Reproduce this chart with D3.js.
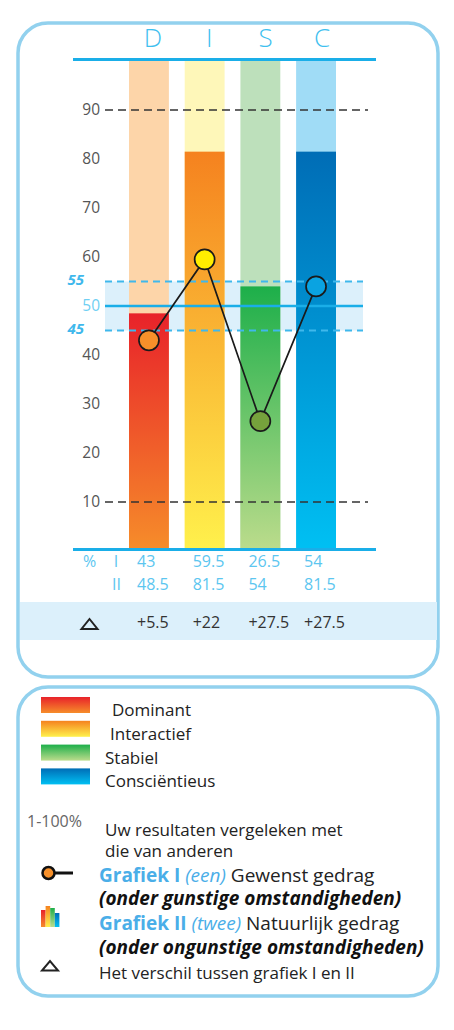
<!DOCTYPE html>
<html>
<head>
<meta charset="utf-8">
<script src="https://cdn.jsdelivr.net/npm/d3@7"></script>
<style>
  body { margin: 0; background: #fff; }
  svg { display: block; font-family: 'Open Sans', sans-serif; }
</style>
</head>
<body>
<svg width="454" height="1030"></svg>
<script>
// data
let categories = ['D', 'I', 'S', 'C']
let names = ['Dominant', 'Interactief', 'Stabiel', 'Consciëntieus']
let grafiekI = [43, 59.5, 26.5, 54]
let grafiekII = [48.5, 81.5, 54, 81.5]
let tickValues = [10, 20, 30, 40, 50, 60, 70, 80, 90]
let bandValues = [45, 55]

let topColors = ['#e8222a', '#f5821f', '#1daf4a', '#006db6']
let bottomColors = ['#f68d2a', '#fff14c', '#bcdc8c', '#00c0f3']
let lightColors = ['#fdd5a9', '#fef7b9', '#bde0bb', '#a0dcf6']
let dotColors = ['#f7902a', '#ffed00', '#76a23c', '#0aa3e1']

let blue = '#1aaee8'
let lightBlue = '#5cc6f0'

let svg = d3.select('svg')

let x = d3.scaleBand()
    .domain(categories)
    .range([129, 336])
    .paddingInner(0.284)
    .paddingOuter(0)
let y = d3.scaleLinear().domain([0, 100]).range([551, 61])
let bw = x.bandwidth()
let cx = c => x(c) + bw / 2

// gradients
let defs = svg.append('defs')
categories.forEach((c, i) => {
    let g = defs.append('linearGradient')
        .attr('id', 'grad' + c)
        .attr('x1', 0).attr('y1', 0).attr('x2', 0).attr('y2', 1)
    g.append('stop').attr('offset', '0%').attr('stop-color', topColors[i])
    g.append('stop').attr('offset', '100%').attr('stop-color', bottomColors[i])
})

// panels
svg.append('rect')
    .attr('x', 18).attr('y', 23).attr('width', 420).attr('height', 654)
    .attr('rx', 30).attr('fill', '#fff')
    .attr('stroke', '#92d1ee').attr('stroke-width', 3.5)
svg.append('rect')
    .attr('x', 18).attr('y', 687).attr('width', 420).attr('height', 309)
    .attr('rx', 30).attr('fill', '#fff')
    .attr('stroke', '#92d1ee').attr('stroke-width', 3.5)

// header letters
let hx = d3.scalePoint().domain(categories).range([153, 322])
svg.selectAll('.head')
    .data(categories)
    .enter()
    .append('text')
    .attr('x', d => hx(d))
    .attr('y', 47)
    .attr('text-anchor', 'middle')
    .attr('font-size', 26)
    .attr('font-weight', 300)
    .attr('fill', '#3ec0ef')
    .text(d => d)

// 45-55 band
svg.append('rect')
    .attr('x', 105).attr('width', 258)
    .attr('y', y(bandValues[1])).attr('height', y(bandValues[0]) - y(bandValues[1]))
    .attr('fill', '#dcf0fb')

// light background bars
svg.selectAll('.bg')
    .data(categories)
    .enter()
    .append('rect')
    .attr('x', d => x(d))
    .attr('width', bw)
    .attr('y', y(100))
    .attr('height', y(0) - y(100))
    .attr('fill', (d, i) => lightColors[i])

// grafiek II bars
svg.selectAll('.bar')
    .data(grafiekII)
    .enter()
    .append('rect')
    .attr('x', (d, i) => x(categories[i]))
    .attr('width', bw)
    .attr('y', d => y(d))
    .attr('height', d => y(0) - y(d))
    .attr('fill', (d, i) => `url(#grad${categories[i]})`)

// band lines
svg.selectAll('.bandline')
    .data(bandValues)
    .enter()
    .append('line')
    .attr('x1', 105).attr('x2', 363)
    .attr('y1', d => y(d)).attr('y2', d => y(d))
    .attr('stroke', '#3fb8ec').attr('stroke-width', 1.8)
    .attr('stroke-dasharray', '7,5')
svg.append('line')
    .attr('x1', 105).attr('x2', 363)
    .attr('y1', y(50)).attr('y2', y(50))
    .attr('stroke', blue).attr('stroke-width', 2.5)

// black dashed lines at 10 and 90
svg.selectAll('.limit')
    .data([10, 90])
    .enter()
    .append('line')
    .attr('x1', 105).attr('x2', 368)
    .attr('y1', d => y(d)).attr('y2', d => y(d))
    .attr('stroke', '#333').attr('stroke-width', 1.5)
    .attr('stroke-dasharray', '8,5')

// top and bottom blue lines
svg.selectAll('.edge')
    .data([0, 100])
    .enter()
    .append('line')
    .attr('x1', 73).attr('x2', 376)
    .attr('y1', d => y(d) - 1.5)
    .attr('y2', d => y(d) - 1.5)
    .attr('stroke', blue).attr('stroke-width', 3)

// y axis
let axis = svg.append('g')
    .attr('transform', 'translate(100,0)')
    .call(d3.axisLeft(y).tickValues(tickValues).tickSize(0).tickPadding(0))
axis.select('.domain').remove()
axis.selectAll('text')
    .attr('font-family', "'Open Sans', sans-serif")
    .attr('font-size', 15.5)
    .attr('fill', d => d === 50 ? '#6fcff3' : '#555')

svg.selectAll('.bandlabel')
    .data(bandValues)
    .enter()
    .append('text')
    .attr('x', 84)
    .attr('y', d => y(d) + 3)
    .attr('text-anchor', 'end')
    .attr('font-size', 15)
    .attr('font-style', 'italic')
    .attr('font-weight', 'bold')
    .attr('fill', '#3fb8ec')
    .text(d => d)

// grafiek I line and dots
let line = d3.line()
    .x((d, i) => cx(categories[i]))
    .y(d => y(d))
svg.append('path')
    .datum(grafiekI)
    .attr('d', line)
    .attr('fill', 'none')
    .attr('stroke', '#1a1a1a')
    .attr('stroke-width', 1.7)
svg.selectAll('.dot')
    .data(grafiekI)
    .enter()
    .append('circle')
    .attr('cx', (d, i) => cx(categories[i]))
    .attr('cy', d => y(d))
    .attr('r', 10)
    .attr('fill', (d, i) => dotColors[i])
    .attr('stroke', '#1a1a1a')
    .attr('stroke-width', 1.7)

// value table
let table = svg.append('g')
    .attr('font-size', 16)
    .attr('fill', lightBlue)
table.append('text').attr('x', 83).attr('y', 567).text('%')
table.append('text').attr('x', 116).attr('y', 567).attr('text-anchor', 'middle').text('I')
table.append('text').attr('x', 116.5).attr('y', 590).attr('text-anchor', 'middle').text('II')
table.selectAll('.v1')
    .data(grafiekI)
    .enter()
    .append('text')
    .attr('x', (d, i) => x(categories[i]) + 8)
    .attr('y', 567)
    .text(d => d)
table.selectAll('.v2')
    .data(grafiekII)
    .enter()
    .append('text')
    .attr('x', (d, i) => x(categories[i]) + 8)
    .attr('y', 590)
    .text(d => d)

// delta row
svg.append('rect')
    .attr('x', 20).attr('y', 602).attr('width', 417).attr('height', 38)
    .attr('fill', '#dcf0fb')
svg.append('path')
    .attr('d', 'M81.5,629 L97.5,629 L89.5,619 Z')
    .attr('fill', 'none').attr('stroke', '#222').attr('stroke-width', 2)
svg.selectAll('.delta')
    .data(grafiekII.map((d, i) => d - grafiekI[i]))
    .enter()
    .append('text')
    .attr('x', (d, i) => x(categories[i]) + 8)
    .attr('y', 628)
    .attr('font-size', 16)
    .attr('fill', '#333')
    .text(d => '+' + d)

// legend
let indents = [7, 5, 0, 0]
names.forEach((n, i) => {
    let yy = 697 + i * 23.8
    svg.append('rect')
        .attr('x', 41).attr('y', yy).attr('width', 49).attr('height', 16)
        .attr('fill', `url(#grad${categories[i]})`)
    svg.append('text')
        .attr('x', 105 + indents[i]).attr('y', yy + 19)
        .attr('font-size', 17).attr('fill', '#222')
        .text(n)
})

svg.append('text')
    .attr('x', 27).attr('y', 827)
    .attr('font-size', 16).attr('fill', '#666')
    .text('1-100%')
svg.append('text')
    .attr('x', 105).attr('y', 836)
    .attr('font-size', 17).attr('fill', '#222')
    .text('Uw resultaten vergeleken met')
svg.append('text')
    .attr('x', 105).attr('y', 857)
    .attr('font-size', 17).attr('fill', '#222')
    .text('die van anderen')

// grafiek I icon
svg.append('line')
    .attr('x1', 48).attr('x2', 73).attr('y1', 873).attr('y2', 873)
    .attr('stroke', '#111').attr('stroke-width', 3)
svg.append('circle')
    .attr('cx', 48.5).attr('cy', 873).attr('r', 6)
    .attr('fill', '#f7902a').attr('stroke', '#111').attr('stroke-width', 2.5)

let t1 = svg.append('text').attr('x', 99).attr('y', 881.5).attr('font-size', 19)
t1.append('tspan').attr('font-weight', 'bold').attr('fill', '#4aaee8').text('Grafiek I ')
t1.append('tspan').attr('font-style', 'italic').attr('fill', '#4aaee8').text('(een)')
t1.append('tspan').attr('fill', '#222').text(' Gewenst gedrag')
svg.append('text')
    .attr('x', 99).attr('y', 905).attr('font-size', 19)
    .attr('font-weight', 'bold').attr('font-style', 'italic').attr('fill', '#111')
    .text('(onder gunstige omstandigheden)')

// grafiek II icon
let iconTops = [910, 906, 908, 913]
iconTops.forEach((t, i) => {
    svg.append('rect')
        .attr('x', 41 + i * 4.6).attr('y', t).attr('width', 4.6).attr('height', 927 - t)
        .attr('fill', `url(#grad${categories[i]})`)
})

let t2 = svg.append('text').attr('x', 99).attr('y', 930).attr('font-size', 19)
t2.append('tspan').attr('font-weight', 'bold').attr('fill', '#4aaee8').text('Grafiek II ')
t2.append('tspan').attr('font-style', 'italic').attr('fill', '#4aaee8').text('(twee)')
t2.append('tspan').attr('fill', '#222').text(' Natuurlijk gedrag')
svg.append('text')
    .attr('x', 99).attr('y', 954).attr('font-size', 19)
    .attr('font-weight', 'bold').attr('font-style', 'italic').attr('fill', '#111')
    .text('(onder ongunstige omstandigheden)')

// delta icon
svg.append('path')
    .attr('d', 'M42,970.5 L58,970.5 L50,961 Z')
    .attr('fill', 'none').attr('stroke', '#222').attr('stroke-width', 2)
svg.append('text')
    .attr('x', 99).attr('y', 979).attr('font-size', 17).attr('fill', '#222')
    .text('Het verschil tussen grafiek I en II')
</script>
</body>
</html>
